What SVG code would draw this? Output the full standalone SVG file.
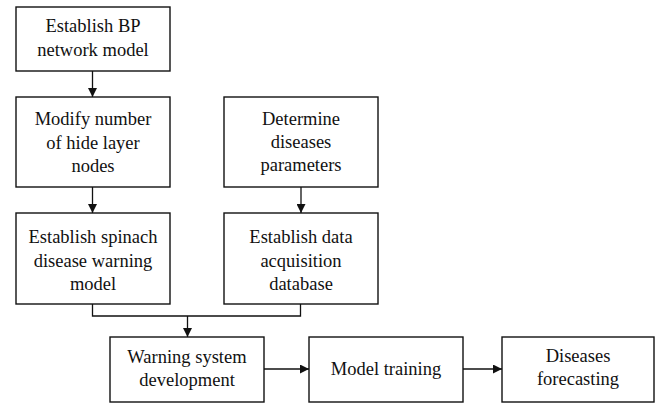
<svg xmlns="http://www.w3.org/2000/svg" width="661" height="405" viewBox="0 0 661 405">
<style>
.box{fill:#fff;stroke:#111;stroke-width:1.4}
.t{font-size:18.5px;fill:#111;text-anchor:middle}
.c{fill:none;stroke:#111;stroke-width:1.3}
</style>
<defs>
<marker id="ah" viewBox="0 0 10 10" refX="10" refY="5" markerWidth="9" markerHeight="9" markerUnits="userSpaceOnUse" orient="auto">
<path d="M0,0 L10,5 L0,10 Z" fill="#111"/>
</marker>
</defs>
<rect width="661" height="405" fill="#fff"/>
<g id="connectors">
<line class="c" x1="92.5" y1="71" x2="92.5" y2="97" marker-end="url(#ah)"/>
<line class="c" x1="92.5" y1="187" x2="92.5" y2="213" marker-end="url(#ah)"/>
<line class="c" x1="301" y1="187" x2="301" y2="213" marker-end="url(#ah)"/>
<polyline class="c" points="92.5,304 92.5,316 300.5,316 300.5,304"/>
<line class="c" x1="187.5" y1="316" x2="187.5" y2="337" marker-end="url(#ah)"/>
<line class="c" x1="264" y1="369" x2="309" y2="369" marker-end="url(#ah)"/>
<line class="c" x1="463" y1="369" x2="502" y2="369" marker-end="url(#ah)"/>
</g>
<g font-family="Liberation Serif, Times New Roman, serif">
<g id="n1">
<rect class="box" x="16" y="7" width="154" height="64"/>
<text class="t" x="93" y="32">Establish BP</text>
<text class="t" x="93" y="56">network model</text>
</g>
<g id="n2">
<rect class="box" x="16" y="97" width="154" height="90"/>
<text class="t" x="93" y="125">Modify number</text>
<text class="t" x="93" y="149">of hide layer</text>
<text class="t" x="93" y="172">nodes</text>
</g>
<g id="n3">
<rect class="box" x="224" y="97" width="154" height="90"/>
<text class="t" x="301" y="125">Determine</text>
<text class="t" x="301" y="148">diseases</text>
<text class="t" x="301" y="171">parameters</text>
</g>
<g id="n4">
<rect class="box" x="16" y="213" width="154" height="91"/>
<text class="t" x="93" y="243">Establish spinach</text>
<text class="t" x="93" y="267">disease warning</text>
<text class="t" x="93" y="290">model</text>
</g>
<g id="n5">
<rect class="box" x="224" y="213" width="154" height="91"/>
<text class="t" x="301" y="243">Establish data</text>
<text class="t" x="301" y="267">acquisition</text>
<text class="t" x="301" y="290">database</text>
</g>
<g id="n6">
<rect class="box" x="110" y="337" width="154" height="65"/>
<text class="t" x="187" y="363">Warning system</text>
<text class="t" x="187" y="386">development</text>
</g>
<g id="n7">
<rect class="box" x="309" y="337" width="154" height="65"/>
<text class="t" x="386" y="375">Model training</text>
</g>
<g id="n8">
<rect class="box" x="502" y="337" width="152" height="65"/>
<text class="t" x="578" y="362">Diseases</text>
<text class="t" x="578" y="385">forecasting</text>
</g>
</g>
</svg>
